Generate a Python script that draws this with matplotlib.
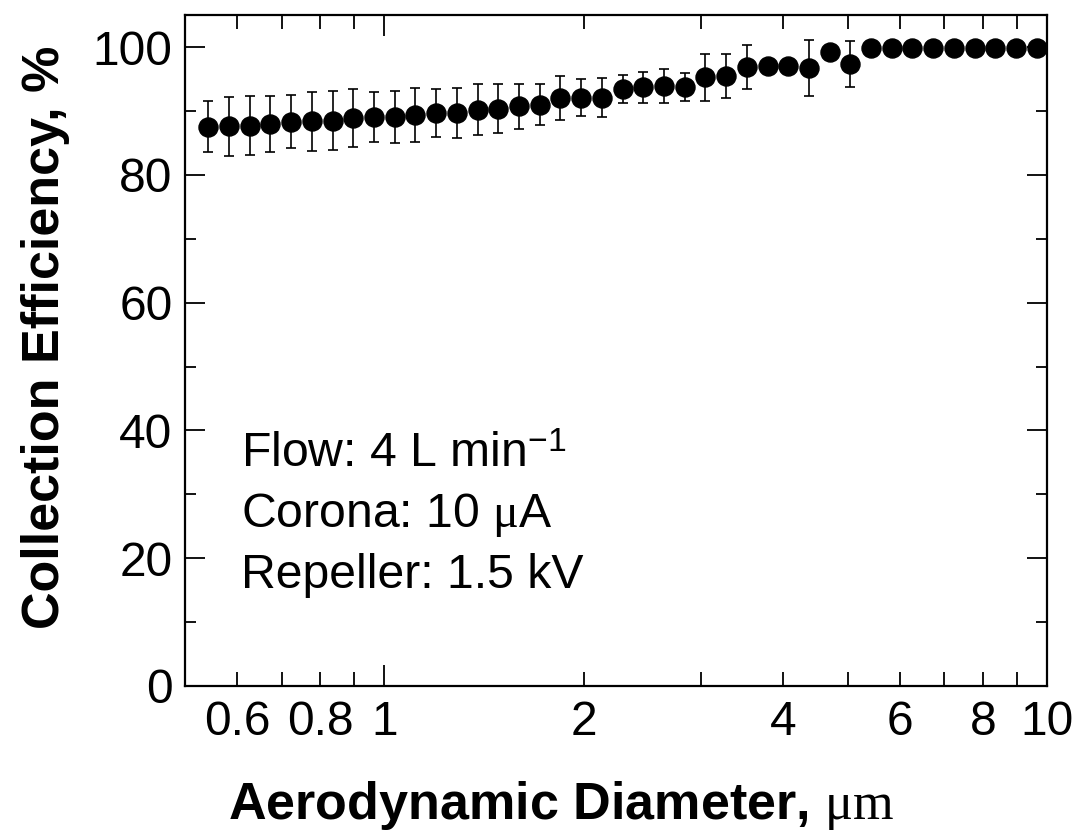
import matplotlib
matplotlib.use("Agg")
import matplotlib.pyplot as plt
from matplotlib.ticker import FixedLocator, FixedFormatter

plt.rcParams['font.family'] = ['Liberation Sans', 'DejaVu Sans']
plt.rcParams['mathtext.fontset'] = 'custom'
plt.rcParams['mathtext.rm'] = 'Liberation Sans'
plt.rcParams['mathtext.it'] = 'Liberation Serif'
plt.rcParams['mathtext.bf'] = 'Liberation Sans:bold'

# Aerodynamic diameter (um), channel midpoints
diameter = [0.542, 0.583, 0.626, 0.673, 0.723, 0.777, 0.835, 0.898, 0.965, 1.037,
            1.114, 1.197, 1.286, 1.382, 1.486, 1.596, 1.715, 1.843, 1.981, 2.129,
            2.288, 2.458, 2.642, 2.839, 3.051, 3.278, 3.523, 3.786, 4.068, 4.371,
            4.698, 5.048, 5.425, 5.829, 6.264, 6.732, 7.234, 7.774, 8.354, 8.977,
            9.647]
# Collection efficiency (%)
efficiency = [87.5, 87.6, 87.7, 87.9, 88.3, 88.4, 88.5, 88.9, 89.05, 89.05,
              89.4, 89.7, 89.7, 90.2, 90.35, 90.7, 91.0, 92.0, 92.1, 92.1,
              93.4, 93.7, 93.9, 93.8, 95.25, 95.5, 96.9, 97.0, 97.1, 96.7,
              99.3, 97.4, 99.9, 99.9, 99.9, 99.9, 99.9, 99.9, 99.9, 99.9,
              99.9]
# Error (+/-, %)
error = [4.0, 4.6, 4.6, 4.4, 4.15, 4.6, 4.6, 4.55, 3.95, 4.0,
         4.25, 3.75, 3.9, 4.0, 3.8, 3.5, 3.2, 3.4, 2.9, 3.0,
         2.15, 2.45, 2.7, 2.2, 3.7, 3.45, 3.45, 0.8, 0.8, 4.4,
         0.5, 3.6, 0.2, 0.2, 0.2, 0.2, 0.2, 0.2, 0.2, 0.2,
         0.2]

x_major = [1, 10]
x_major_labels = ['1', '10']
x_minor = [0.6, 0.7, 0.8, 0.9, 2, 3, 4, 5, 6, 7, 8, 9]
x_minor_labels = ['0.6', '', '0.8', '', '2', '', '4', '', '6', '', '8', '']
y_major = [0, 20, 40, 60, 80, 100]
y_minor = [10, 30, 50, 70, 90]
notes = ['Flow: 4 L min$^{\\mathrm{-1}}$', 'Corona: 10 $\\mu$A', 'Repeller: 1.5 kV']

fig = plt.figure(figsize=(10.81, 8.38), dpi=100)
ax = fig.add_axes([0.1711, 0.1814, 0.9686 - 0.1711, 0.982 - 0.1814])

ax.errorbar(diameter, efficiency, yerr=error, fmt='none', ecolor='black',
            elinewidth=1.2, capsize=3.6, capthick=1.2, zorder=2)
ax.plot(diameter, efficiency, 'o', color='black', markersize=13.7, zorder=3)

ax.set_xscale('log')
ax.set_xlim(0.5, 10)
ax.set_ylim(0, 105)

ax.xaxis.set_major_locator(FixedLocator(x_major))
ax.xaxis.set_major_formatter(FixedFormatter(x_major_labels))
ax.xaxis.set_minor_locator(FixedLocator(x_minor))
ax.xaxis.set_minor_formatter(FixedFormatter(x_minor_labels))
ax.yaxis.set_major_locator(FixedLocator(y_major))
ax.yaxis.set_minor_locator(FixedLocator(y_minor))

for s in ax.spines.values():
    s.set_linewidth(1.6)

ax.tick_params(axis='both', which='both', direction='in', top=True, right=True,
               labelsize=34.5, width=1.3)
ax.tick_params(axis='y', which='major', length=14.5, pad=9)
ax.tick_params(axis='y', which='minor', length=8)
ax.tick_params(axis='x', which='major', length=15, pad=10)
ax.tick_params(axis='x', which='minor', length=10, pad=10)

ax.set_xlabel(r'Aerodynamic Diameter, $\mu m$', fontsize=37.5, fontweight='bold')
ax.xaxis.set_label_coords(0.437, -0.139)
ax.set_ylabel('Collection Efficiency, %', fontsize=37.5, fontweight='bold')
ax.yaxis.set_label_coords(-0.133, 0.52)

for i, (note, yv) in enumerate(zip(notes, [34.3, 24.9, 15.3])):
    ax.text(0.607, yv, note, fontsize=34.7, ha='left', va='baseline')

fig.savefig('out.png', dpi=100)
